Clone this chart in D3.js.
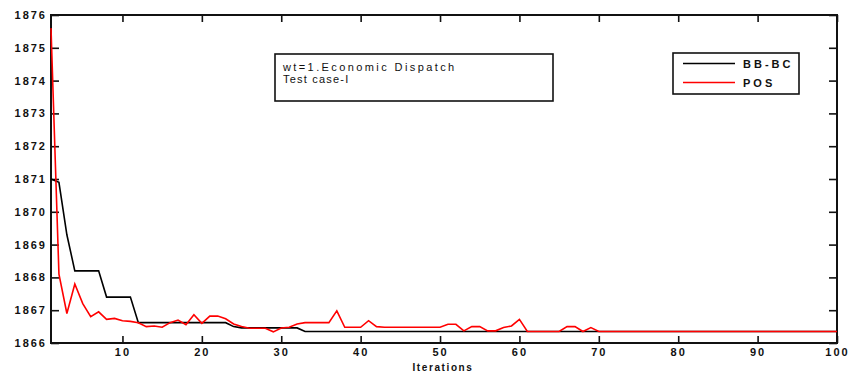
<!DOCTYPE html>
<html>
<head>
<meta charset="utf-8">
<script src="https://cdn.jsdelivr.net/npm/d3@7"></script>
<style>
  body { margin: 0; background: #fff; }
  svg { display: block; font-family: "Liberation Sans", Arial, sans-serif; }
</style>
</head>
<body>
<svg id="chart" width="849" height="379"></svg>
<script>
// Iteration numbers (x axis) and the two convergence curves
const iterations = d3.range(1, 101);

const bbbc = [
  1871.0, 1870.9, 1869.3, 1868.2, 1868.2, 1868.2, 1868.2, 1867.4, 1867.4, 1867.4,
  1867.4, 1866.62, 1866.62, 1866.62, 1866.62, 1866.62, 1866.62, 1866.62, 1866.62, 1866.62,
  1866.62, 1866.62, 1866.62, 1866.5, 1866.46, 1866.46, 1866.46, 1866.46, 1866.46, 1866.46,
  1866.46, 1866.46, 1866.35, 1866.35, 1866.35, 1866.35, 1866.35, 1866.35, 1866.35, 1866.35,
  1866.35, 1866.35, 1866.35, 1866.35, 1866.35, 1866.35, 1866.35, 1866.35, 1866.35, 1866.35,
  1866.35, 1866.35, 1866.35, 1866.35, 1866.35, 1866.35, 1866.35, 1866.35, 1866.35, 1866.35,
  1866.35, 1866.35, 1866.35, 1866.35, 1866.35, 1866.35, 1866.35, 1866.35, 1866.35, 1866.35,
  1866.35, 1866.35, 1866.35, 1866.35, 1866.35, 1866.35, 1866.35, 1866.35, 1866.35, 1866.35,
  1866.35, 1866.35, 1866.35, 1866.35, 1866.35, 1866.35, 1866.35, 1866.35, 1866.35, 1866.35,
  1866.35, 1866.35, 1866.35, 1866.35, 1866.35, 1866.35, 1866.35, 1866.35, 1866.35, 1866.35
];

const pos = [
  1875.6, 1868.1, 1866.9, 1867.8, 1867.2, 1866.8, 1866.95, 1866.72, 1866.75, 1866.68,
  1866.66, 1866.62, 1866.5, 1866.52, 1866.48, 1866.62, 1866.7, 1866.56, 1866.86, 1866.6,
  1866.82, 1866.82, 1866.74, 1866.58, 1866.5, 1866.45, 1866.45, 1866.45, 1866.34, 1866.46,
  1866.48, 1866.58, 1866.62, 1866.62, 1866.62, 1866.62, 1866.98, 1866.48, 1866.48, 1866.48,
  1866.68, 1866.5, 1866.48, 1866.48, 1866.48, 1866.48, 1866.48, 1866.48, 1866.48, 1866.48,
  1866.57, 1866.57, 1866.37, 1866.5, 1866.5, 1866.37, 1866.37, 1866.47, 1866.52, 1866.72,
  1866.35, 1866.35, 1866.35, 1866.35, 1866.35, 1866.5, 1866.5, 1866.35, 1866.47, 1866.35,
  1866.35, 1866.35, 1866.35, 1866.35, 1866.35, 1866.35, 1866.35, 1866.35, 1866.35, 1866.35,
  1866.35, 1866.35, 1866.35, 1866.35, 1866.35, 1866.35, 1866.35, 1866.35, 1866.35, 1866.35,
  1866.35, 1866.35, 1866.35, 1866.35, 1866.35, 1866.35, 1866.35, 1866.35, 1866.35, 1866.35
];

const xTicks = [10, 20, 30, 40, 50, 60, 70, 80, 90, 100];
const yTicks = [1866, 1867, 1868, 1869, 1870, 1871, 1872, 1873, 1874, 1875, 1876];
const seriesNames = ['BB-BC', 'POS'];
const seriesColors = ['#000000', '#ff0000'];
const titleLines = ['wt=1.Economic Dispatch', 'Test case-I'];

// plot box
const box = { left: 51, right: 837, top: 15, bottom: 343 };

const svg = d3.select('#chart');

const x = d3.scaleLinear().domain([1, 100]).range([box.left, box.right]);
const y = d3.scaleLinear().domain([1866, 1876]).range([box.bottom, box.top]);

const tickFont = g => g.selectAll('text')
  .style('font-size', '11px')
  .style('font-weight', 'bold')
  .style('letter-spacing', '2px')
  .attr('fill', '#111');

// axes with inward ticks on all four sides
svg.append('g')
  .attr('transform', `translate(0,${box.bottom})`)
  .call(d3.axisBottom(x).tickValues(xTicks).tickSize(-7).tickPadding(5))
  .call(tickFont)
  .call(g => g.select('.domain').remove());

svg.append('g')
  .attr('transform', `translate(0,${box.top})`)
  .call(d3.axisTop(x).tickValues(xTicks).tickSize(-7).tickFormat(''))
  .call(g => g.select('.domain').remove());

svg.append('g')
  .attr('transform', `translate(${box.left},0)`)
  .call(d3.axisLeft(y).tickValues(yTicks).tickSize(-8).tickPadding(4).tickFormat(d3.format('d')))
  .call(tickFont)
  .call(g => g.select('.domain').remove());

svg.append('g')
  .attr('transform', `translate(${box.right},0)`)
  .call(d3.axisRight(y).tickValues(yTicks).tickSize(-8).tickFormat(''))
  .call(g => g.select('.domain').remove());

svg.selectAll('.tick line').attr('stroke', '#111').attr('stroke-width', 1.6);

// frame
svg.append('rect')
  .attr('x', box.left).attr('y', box.top)
  .attr('width', box.right - box.left).attr('height', box.bottom - box.top)
  .attr('fill', 'none')
  .attr('stroke', '#111')
  .attr('stroke-width', 2);

// curves
const line = d3.line()
  .x((d, i) => x(iterations[i]))
  .y(d => y(d));

[bbbc, pos].forEach((s, k) => {
  svg.append('path')
    .datum(s)
    .attr('fill', 'none')
    .attr('stroke', seriesColors[k])
    .attr('stroke-width', 1.6)
    .attr('d', line);
});

// x label
svg.append('text')
  .attr('x', 443)
  .attr('y', 371)
  .attr('text-anchor', 'middle')
  .style('font-size', '10px')
  .style('font-weight', 'bold')
  .style('letter-spacing', '1.6px')
  .attr('fill', '#111')
  .text('Iterations');

// title box
svg.append('rect')
  .attr('x', 275).attr('y', 54)
  .attr('width', 278).attr('height', 47)
  .attr('fill', '#fff')
  .attr('stroke', '#111')
  .attr('stroke-width', 1.6);

svg.selectAll('.title-line')
  .data(titleLines)
  .enter()
  .append('text')
  .attr('class', 'title-line')
  .attr('x', 283)
  .attr('y', (d, i) => 71 + i * 12)
  .style('font-size', '11px')
  .style('letter-spacing', (d, i) => i === 0 ? '2.4px' : '1.2px')
  .attr('fill', '#111')
  .text(d => d);

// legend
const legend = svg.append('g');
legend.append('rect')
  .attr('x', 673).attr('y', 53)
  .attr('width', 126).attr('height', 41)
  .attr('fill', '#fff')
  .attr('stroke', '#111')
  .attr('stroke-width', 1.6);

seriesNames.forEach((name, k) => {
  const ly = 63.5 + k * 19;
  legend.append('line')
    .attr('x1', 683).attr('x2', 735)
    .attr('y1', ly).attr('y2', ly)
    .attr('stroke', seriesColors[k])
    .attr('stroke-width', 1.6);
  legend.append('text')
    .attr('x', 743)
    .attr('y', ly + 4)
    .style('font-size', '11px')
    .style('font-weight', 'bold')
    .style('letter-spacing', '3px')
    .attr('fill', '#111')
    .text(name);
});
</script>
</body>
</html>
